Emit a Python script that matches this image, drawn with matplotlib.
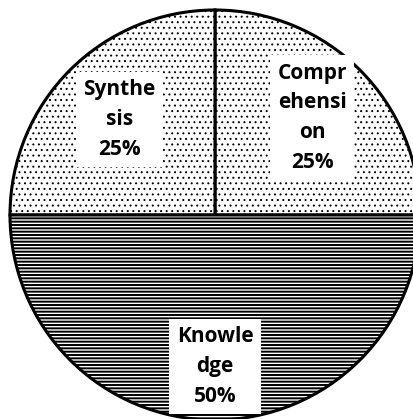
import matplotlib
matplotlib.use("Agg")
import matplotlib.pyplot as plt
import numpy as np

# slices, counter-clockwise from 3 o'clock
labels = ["Compr\nehensi\non", "Synthe\nsis", "Knowle\ndge"]
values = [25, 25, 50]
hatches = ["...", "...", "-----"]
label_radius = [0.67, 0.66, 0.74]

plt.rcParams["hatch.linewidth"] = 1.4
plt.rcParams["hatch.color"] = "black"

fig = plt.figure(figsize=(4.13, 4.19), dpi=100)
ax = fig.add_axes([0, 0, 1, 1])

wedges, _ = ax.pie(values, startangle=0, counterclock=True, radius=1,
                   colors=["white"] * 3,
                   wedgeprops=dict(edgecolor="black", linewidth=2.2))
for w, h in zip(wedges, hatches):
    w.set_hatch(h)
    if h == "..." and hasattr(w, "set_hatch_linewidth"):
        w.set_hatch_linewidth(0.7)

total = sum(values)
for w, lab, v, r in zip(wedges, labels, values, label_radius):
    mid = np.deg2rad((w.theta1 + w.theta2) / 2)
    ax.text(r * np.cos(mid), r * np.sin(mid), f"{lab}\n{v * 100 // total}%",
            ha="center", va="center", fontsize=15, fontweight="bold",
            family="Open Sans", linespacing=1.55,
            bbox=dict(boxstyle="square,pad=0.35", fc="white", ec="none"))

ax.set_xlim(-1.0488, 0.9659)
ax.set_ylim(-0.9951, 1.0488)
ax.set_aspect("equal", adjustable="datalim")
ax.axis("off")

fig.savefig("out.png", dpi=100)
